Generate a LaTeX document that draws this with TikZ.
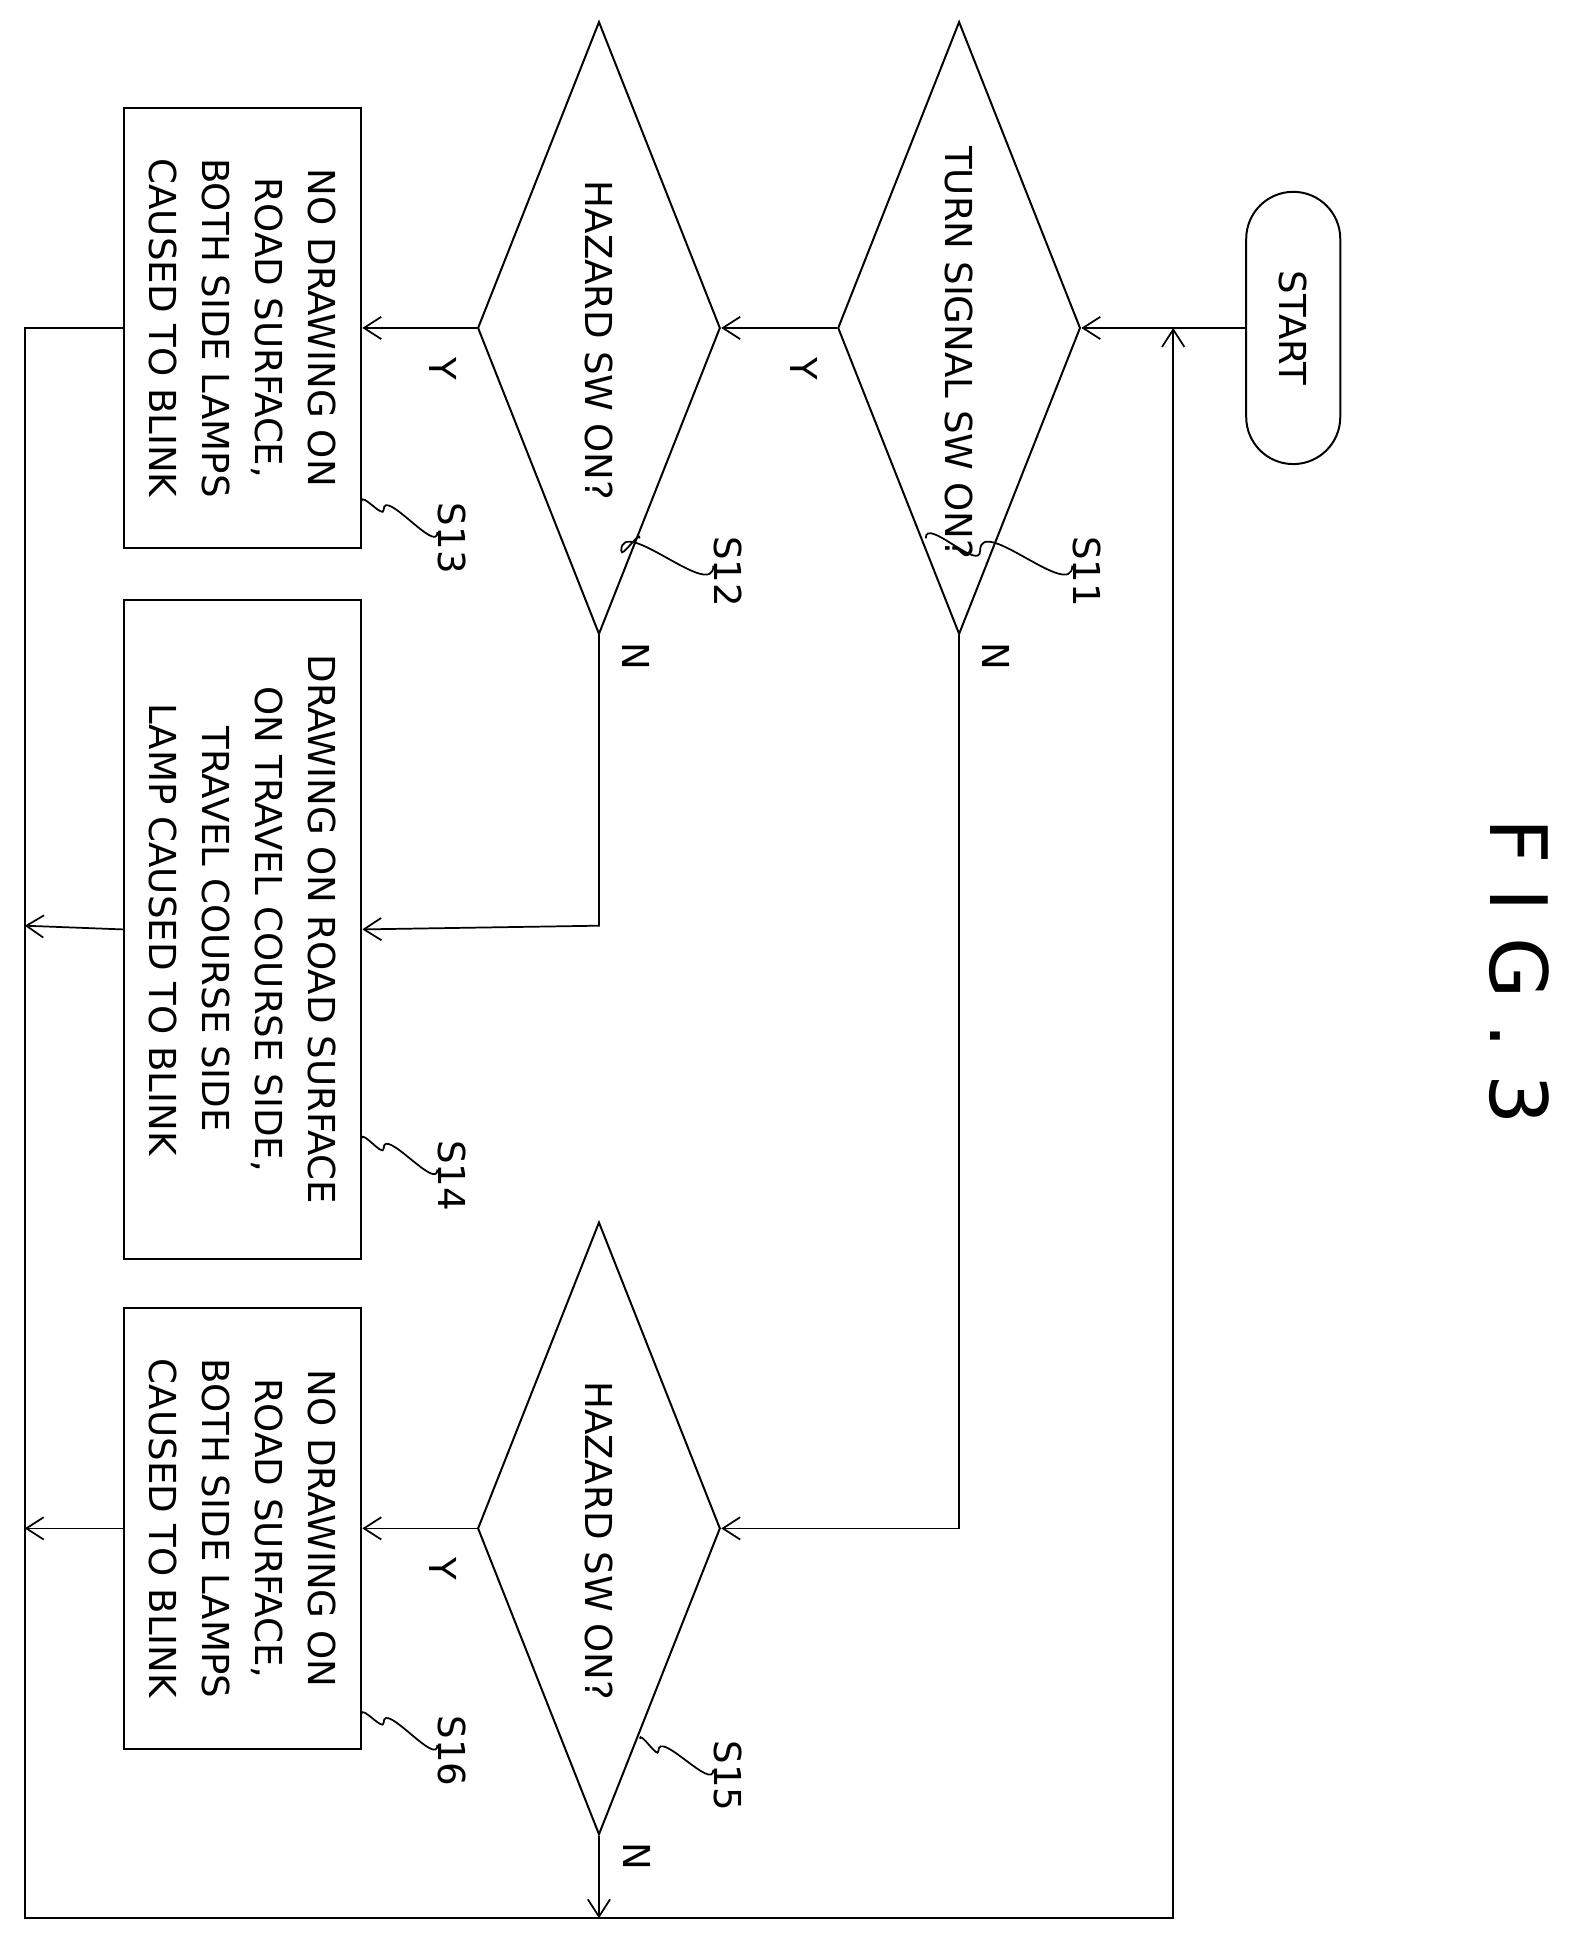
\documentclass[tikz,border=0pt]{standalone}
\usepackage{fontspec}
\setmainfont{DejaVu Sans}
\usetikzlibrary{shapes.geometric,arrows.meta}
\begin{document}
\begin{tikzpicture}[x=1pt,y=-1pt,
  txt/.style={rotate=-90,font=\fontsize{30}{43}\selectfont,align=center,inner sep=0},
  dia/.style={diamond,draw,line width=1.6pt,minimum width=196pt,minimum height=495pt,inner sep=0},
  box/.style={rectangle,draw,line width=1.6pt,minimum width=192pt,inner sep=0},
  ln/.style={line width=1.4pt},
  ar/.style={ln,-{Straight Barb[length=14pt,width=18pt,line width=1.4pt]}},
  lab/.style={rotate=-90,font=\fontsize{30}{36}\selectfont,inner sep=0}]
\useasboundingbox (0,0) rectangle (1280,1566);
\node[rotate=-90,font=\fontsize{64}{70}\selectfont,inner sep=0] (fig) at (1228,785) {F I G . 3};
\node[draw,line width=1.6pt,rounded corners=38pt,minimum width=76pt,minimum height=220pt,inner sep=0] (start) at (1045,265) {};
\node[txt] at (start.center) {START};
\node[dia] (s11) at (775,265) {};
\node[txt] at (775,285) {TURN SIGNAL SW ON?};
\node[dia] (s12) at (484,265) {};
\node[txt] at (484,275) {HAZARD SW ON?};
\node[dia] (s15) at (484,1235) {};
\node[txt] at (484,1245) {HAZARD SW ON?};
\node[box,minimum height=355pt] (s13) at (196,265) {};
\node[txt] at (s13.center) {NO DRAWING ON\\ROAD SURFACE,\\BOTH SIDE LAMPS\\CAUSED TO BLINK};
\node[box,minimum height=533pt] (s14) at (196,751) {};
\node[txt] at (s14.center) {DRAWING ON ROAD SURFACE\\ON TRAVEL COURSE SIDE,\\TRAVEL COURSE SIDE\\LAMP CAUSED TO BLINK};
\node[box,minimum height=356pt] (s16) at (196,1235) {};
\node[txt] at (s16.center) {NO DRAWING ON\\ROAD SURFACE,\\BOTH SIDE LAMPS\\CAUSED TO BLINK};
\coordinate (l1) at (20,265); \coordinate (l2) at (20,1550);
\coordinate (l3) at (948,1550); \coordinate (l4) at (948,265);
\coordinate (n1) at (775,1235); \coordinate (n2) at (484,748);
\coordinate (e14) at (20,748); \coordinate (e16) at (20,1235); \coordinate (e15) at (484,1550);
\draw[ar] (start.west) -- (s11.east);
\draw[ar] (s11.west) -- (s12.east);
\draw[ar] (s12.west) -- (s13.east);
\draw[ar] (s11.south) -- (n1) -- (s15.east);
\draw[ar] (s12.south) -- (n2) -- (s14.east);
\draw[ar] (s15.west) -- (s16.east);
\draw[ar] (s15.south) -- (e15);
\draw[ar] (s14.west) -- (e14);
\draw[ar] (s16.west) -- (e16);
\draw[ar] (s13.west) -- (l1) -- (l2) -- (l3) -- (l4);
\node[lab] (y1) at (650,298) {Y}; \node[lab] (y2) at (358,298) {Y}; \node[lab] (y3) at (358,1268) {Y};
\node[lab] (nn1) at (805,530) {N}; \node[lab] (nn2) at (514,530) {N}; \node[lab] (nn3) at (515,1500) {N};
\node[lab] (t11) at (878,462) {S11}; \node[lab] (t12) at (588,462) {S12};
\node[lab] (t13) at (365,435) {S13}; \node[lab] (t14) at (365,950) {S14};
\node[lab] (t15) at (588,1435) {S15}; \node[lab] (t16) at (365,1415) {S16};
\draw[ln] (t11.south) ++(0,-5) to[out=-90,in=90] (792,445) to[out=-90,in=90] (748,435);
\draw[ln] (t12.south) ++(0,-5) to[out=-90,in=90] (502,445) to[out=-90,in=90] (517,435);
\draw[ln] (t13.south) ++(0,-5) to[out=-90,in=90] (310,412) to[out=-90,in=90] (292,405);
\draw[ln] (t14.south) ++(0,-5) to[out=-90,in=90] (310,928) to[out=-90,in=90] (292,920);
\draw[ln] (t15.south) ++(0,-5) to[out=-90,in=90] (532,1415) to[out=-90,in=90] (517,1405);
\draw[ln] (t16.south) ++(0,-5) to[out=-90,in=90] (310,1392) to[out=-90,in=90] (292,1385);
\end{tikzpicture}
\end{document}
